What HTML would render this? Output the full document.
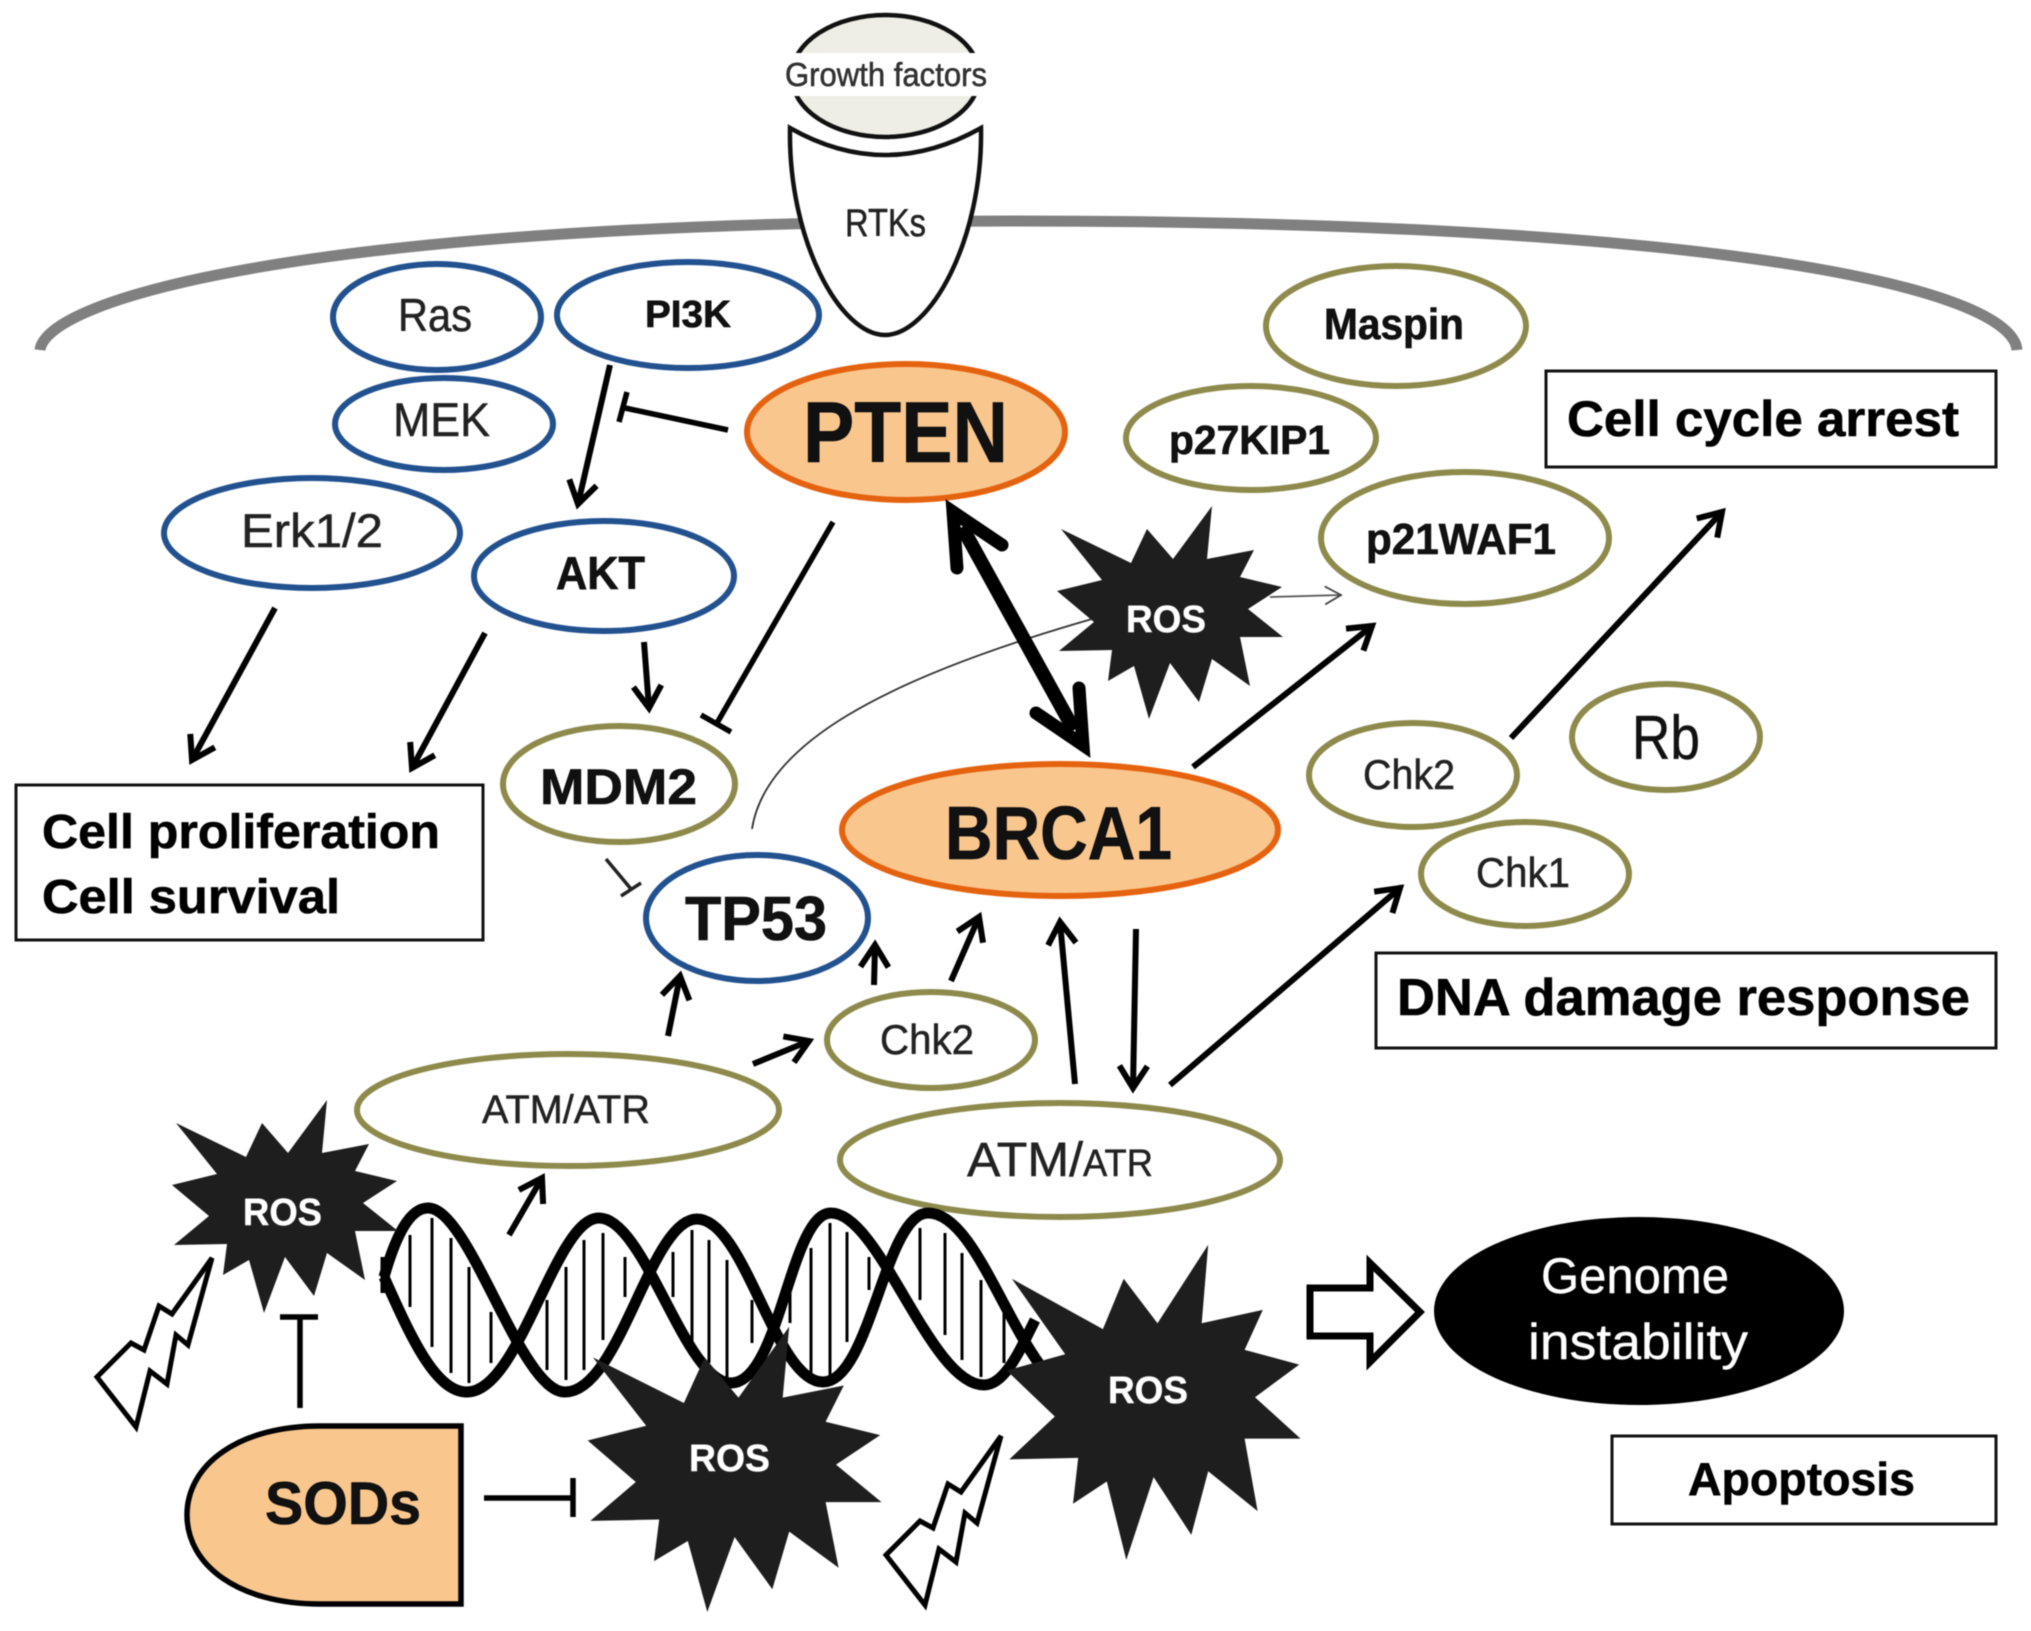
<!DOCTYPE html>
<html><head><meta charset="utf-8"><title>PTEN BRCA1 pathway</title>
<style>html,body{margin:0;padding:0;background:#fff}svg{display:block;filter:blur(.6px)}
text{font-family:"Liberation Sans",sans-serif;text-anchor:start;stroke:#222;stroke-width:.5}
.b{font-weight:bold;stroke:#000;stroke-width:.6}.w{fill:#fff;stroke:#fff;stroke-width:.4}
.bl{fill:#fff;stroke:#22518f;stroke-width:6}
.ol{fill:#fff;stroke:#8e8a4c;stroke-width:6}
.or{fill:#f9c78e;stroke:#e5620f;stroke-width:6}
.a{fill:none;stroke:#000;stroke-width:6;marker-end:url(#h)}
.s{fill:none;stroke:#000;stroke-width:5.5}
.box{fill:#fff;stroke:#111;stroke-width:3}
</style></head><body>
<svg xmlns="http://www.w3.org/2000/svg" width="2031" height="1631" viewBox="0 0 2031 1631">
<defs>
<marker id="h" markerUnits="userSpaceOnUse" markerWidth="40" markerHeight="40" refX="28" refY="20" orient="auto" overflow="visible">
<path d="M6 6 L28 20 L6 34" fill="none" stroke="#000" stroke-width="6"/></marker>
<marker id="t" markerUnits="userSpaceOnUse" markerWidth="30" markerHeight="30" refX="24" refY="15" orient="auto" overflow="visible">
<path d="M8 6 L24 15 L8 24" fill="none" stroke="#444" stroke-width="1.8"/></marker>
<polygon id="star" fill="#1e1e1e" points="44,-113 39,-60 86,-69 72,-42 114,-32 80,-10 115,18 72,18 82,67 44,40 31,83 2,44 -19,100 -34,47 -60,62 -56,31 -109,32 -74,3 -111,-28 -66,-39 -107,-90 -37,-56 -21,-90 5,-60"/>
<polygon id="bolt" fill="#fff" stroke="#000" stroke-width="5" stroke-linejoin="miter" points="212,1258 188,1345 176,1335 167,1384 150,1371 136,1427 97,1377 131,1343 144,1350 159,1306 172,1314"/>
</defs>

<!-- membrane -->
<path d="M40 350 C46 300,300 221,1015 221 C1730 221,2012 290,2017 350" fill="none" stroke="#808080" stroke-width="11"/>

<!-- growth factors -->
<ellipse cx="885.5" cy="76" rx="94" ry="61" fill="#eeeee6" stroke="#111" stroke-width="4.5"/>
<rect x="780" y="53" width="212" height="43" fill="#fff"/>
<text x="785" y="86" font-size="33" fill="#333" textLength="202" lengthAdjust="spacingAndGlyphs">Growth factors</text>

<!-- RTK -->
<path d="M790 128 Q885 182 981 128 C983 240,930 335,885 335 C840 335,788 240,790 128 Z" fill="#fff" stroke="#111" stroke-width="4.5"/>
<text x="845" y="236" font-size="39" fill="#222" textLength="81" lengthAdjust="spacingAndGlyphs">RTKs</text>

<!-- blue ellipses -->
<ellipse class="bl" cx="437" cy="317" rx="104" ry="53"/>
<ellipse class="bl" cx="688" cy="315" rx="131" ry="53"/>
<ellipse class="bl" cx="444" cy="424" rx="109" ry="46"/>
<ellipse class="bl" cx="312" cy="533" rx="148" ry="55"/>
<ellipse class="bl" cx="604" cy="576" rx="130" ry="55"/>
<ellipse class="bl" cx="757" cy="918" rx="111" ry="63"/>

<!-- olive ellipses -->
<ellipse class="ol" cx="619" cy="784" rx="116" ry="58"/>
<ellipse class="ol" cx="931" cy="1040" rx="104" ry="48"/>
<ellipse class="ol" cx="568" cy="1110" rx="211" ry="56"/>
<ellipse class="ol" cx="1060" cy="1160" rx="220" ry="57"/>
<ellipse class="ol" cx="1396" cy="326" rx="130" ry="60"/>
<ellipse class="ol" cx="1251" cy="438" rx="125" ry="52"/>
<ellipse class="ol" cx="1465" cy="538" rx="144" ry="66"/>
<ellipse class="ol" cx="1413" cy="775" rx="104" ry="52"/>
<ellipse class="ol" cx="1666" cy="737" rx="94" ry="53"/>
<ellipse class="ol" cx="1525" cy="874" rx="104" ry="52"/>

<!-- orange ellipses -->
<ellipse class="or" cx="906" cy="432" rx="159" ry="68"/>
<ellipse class="or" cx="1060" cy="830" rx="218" ry="66"/>

<!-- genome -->
<ellipse cx="1639" cy="1311" rx="205" ry="94" fill="#000"/>

<!-- boxes -->
<rect class="box" x="1546" y="371" width="450" height="96"/>
<rect class="box" x="1376" y="953" width="620" height="95"/>
<rect class="box" x="1612" y="1436" width="384" height="88" stroke-width="4"/>
<rect class="box" x="16" y="785" width="467" height="155" stroke-width="4"/>

<!-- thin curve + arrow -->
<path d="M752 829 C765 745,880 680,1092 619" fill="none" stroke="#333" stroke-width="1.8"/>
<line x1="1270" y1="597" x2="1341" y2="595" stroke="#555" stroke-width="1.8" marker-end="url(#t)"/>

<!-- arrows -->
<line class="a" x1="610" y1="365" x2="578" y2="504"/>
<line class="a" x1="275" y1="608" x2="192" y2="760"/>
<line class="a" x1="485" y1="633" x2="412" y2="768"/>
<line class="a" x1="644" y1="642" x2="649" y2="708"/>
<line class="a" x1="1193" y1="767" x2="1372" y2="626"/>
<line class="a" x1="1511" y1="738" x2="1722" y2="512"/>
<line class="a" x1="1170" y1="1085" x2="1400" y2="888"/>
<line class="a" x1="1075" y1="1084" x2="1060" y2="922"/>
<line class="a" x1="1136" y1="929" x2="1133" y2="1088"/>
<line class="a" x1="951" y1="981" x2="979" y2="917"/>
<line class="a" x1="874" y1="985" x2="875" y2="945"/>
<line class="a" x1="668" y1="1036" x2="680" y2="976"/>
<line class="a" x1="753" y1="1064" x2="809" y2="1041"/>
<line class="a" x1="509" y1="1235" x2="542" y2="1178"/>

<!-- inhibitors -->
<path class="s" d="M728 430 L625 408 M627 392 L619 422"/>
<path class="s" d="M833 522 L717 723 M701 715 L731 732"/>
<path d="M606 859 L631 889 M621 896 L641 883" fill="none" stroke="#222" stroke-width="3.5"/>
<path class="s" d="M300 1408 V1317 M280 1317 H318"/>
<path class="s" d="M484 1498 H573 M573 1478 V1517"/>

<!-- thick double arrow -->
<path d="M962 527 L1074 730" stroke="#000" stroke-width="14" fill="none"/>
<path d="M957 568 L953 512 L1002 545" fill="none" stroke="#000" stroke-width="13" stroke-linecap="round" stroke-linejoin="miter"/>
<path d="M1079 688 L1083 745 L1036 713" fill="none" stroke="#000" stroke-width="13" stroke-linecap="round" stroke-linejoin="miter"/>

<!-- DNA rungs -->
<path stroke="#000" stroke-width="3" fill="none" d="M410 1235V1307M432 1218V1347M451 1238V1373M469 1267V1383M491 1312V1363M547 1300V1370M566 1267V1380M584 1240V1370M603 1233V1340M625 1257V1297M673 1252V1297M692 1230V1343M709 1240V1363M727 1260V1377M752 1300V1343M790 1293V1323M811 1248V1380M830 1223V1380M847 1232V1342M869 1257V1290M920 1228V1300M945 1233V1335M962 1253V1360M981 1280V1377M1004 1313V1363"/>
<!-- DNA strands -->
<path fill="none" stroke="#000" stroke-width="11" d="M384 1277 C396 1235,410 1208,428 1208 C470 1208,520 1392,565 1392 C620 1392,650 1219,697 1219 C745 1219,775 1382,823 1382 C870 1382,885 1213,928 1213 C970 1213,1000 1310,1040 1365"/>
<path fill="none" stroke="#000" stroke-width="11" d="M384 1277 C410 1335,435 1392,467 1392 C520 1392,555 1218,599 1218 C645 1218,685 1383,731 1383 C780 1383,790 1213,831 1213 C880 1213,930 1385,984 1385 C1005 1385,1020 1350,1035 1320"/>
<path d="M384 1257 V1293" stroke="#000" stroke-width="7" fill="none"/>

<!-- stars -->
<use href="#star" transform="translate(1168,619)"/>
<use href="#star" transform="translate(283,1213)"/>
<use href="#star" transform="translate(732,1478) scale(1.3,1.34)"/>
<use href="#star" transform="translate(1151,1412) scale(1.3,1.48)"/>

<!-- bolts -->
<use href="#bolt"/>
<use href="#bolt" transform="translate(789,178)"/>

<!-- SODs -->
<path d="M461 1426 L320 1426 C238 1426 187 1465 187 1515 C187 1565 238 1604 320 1604 L461 1604 Z" fill="#f9c78e" stroke="#000" stroke-width="5.5"/>

<!-- hollow arrow -->
<path d="M1310 1288 H1370 V1263 L1420 1312 L1370 1362 V1336 H1310 Z" fill="#fff" stroke="#000" stroke-width="7"/>

<!-- labels -->
<text x="398" y="331" font-size="46" fill="#222" textLength="74" lengthAdjust="spacingAndGlyphs">Ras</text>
<text x="645" y="327" font-size="38" class="b" fill="#111" textLength="86" lengthAdjust="spacingAndGlyphs">PI3K</text>
<text x="393" y="436" font-size="47" fill="#222" textLength="97" lengthAdjust="spacingAndGlyphs">MEK</text>
<text x="241" y="547" font-size="47" fill="#222" textLength="142" lengthAdjust="spacingAndGlyphs">Erk1/2</text>
<text x="556" y="589" font-size="46" class="b" fill="#111" textLength="89" lengthAdjust="spacingAndGlyphs">AKT</text>
<text x="803" y="462" font-size="86" class="b" fill="#111" textLength="205" lengthAdjust="spacingAndGlyphs">PTEN</text>
<text x="945" y="859" font-size="75" class="b" fill="#111" textLength="227" lengthAdjust="spacingAndGlyphs">BRCA1</text>
<text x="540" y="804" font-size="50" class="b" fill="#111" textLength="157" lengthAdjust="spacingAndGlyphs">MDM2</text>
<text x="685" y="940" font-size="62" class="b" fill="#111" textLength="142" lengthAdjust="spacingAndGlyphs">TP53</text>
<text x="880" y="1054" font-size="42" fill="#222" textLength="94" lengthAdjust="spacingAndGlyphs">Chk2</text>
<text x="482" y="1123" font-size="40" fill="#222" textLength="168" lengthAdjust="spacingAndGlyphs">ATM/ATR</text>
<text x="967" y="1176" font-size="48" fill="#222" textLength="116" lengthAdjust="spacingAndGlyphs">ATM/</text>
<text x="1083" y="1176" font-size="38" fill="#222" textLength="70" lengthAdjust="spacingAndGlyphs">ATR</text>
<text x="1324" y="339" font-size="44" class="b" fill="#111" textLength="140" lengthAdjust="spacingAndGlyphs">Maspin</text>
<text x="1169" y="454" font-size="41" class="b" fill="#111" textLength="161" lengthAdjust="spacingAndGlyphs">p27KIP1</text>
<text x="1366" y="554" font-size="44" class="b" fill="#111" textLength="190" lengthAdjust="spacingAndGlyphs">p21WAF1</text>
<text x="1363" y="789" font-size="42" fill="#222" textLength="92" lengthAdjust="spacingAndGlyphs">Chk2</text>
<text x="1632" y="759" font-size="62" fill="#111" textLength="68" lengthAdjust="spacingAndGlyphs">Rb</text>
<text x="1476" y="887" font-size="42" fill="#222" textLength="94" lengthAdjust="spacingAndGlyphs">Chk1</text>
<text x="1567" y="436" font-size="50" class="b" fill="#000" textLength="392" lengthAdjust="spacingAndGlyphs">Cell cycle arrest</text>
<text x="1397" y="1015" font-size="52" class="b" fill="#000" textLength="573" lengthAdjust="spacingAndGlyphs">DNA damage response</text>
<text x="1688" y="1495" font-size="46" class="b" fill="#000" textLength="227" lengthAdjust="spacingAndGlyphs">Apoptosis</text>
<text x="1541" y="1293" font-size="50" class="w" textLength="188" lengthAdjust="spacingAndGlyphs">Genome</text>
<text x="1528" y="1359" font-size="50" class="w" textLength="220" lengthAdjust="spacingAndGlyphs">instability</text>
<text x="1126" y="632" font-size="38" class="b w" textLength="80" lengthAdjust="spacingAndGlyphs">ROS</text>
<text x="243" y="1225" font-size="38" class="b w" textLength="79" lengthAdjust="spacingAndGlyphs">ROS</text>
<text x="689" y="1471" font-size="38" class="b w" textLength="81" lengthAdjust="spacingAndGlyphs">ROS</text>
<text x="1108" y="1403" font-size="38" class="b w" textLength="80" lengthAdjust="spacingAndGlyphs">ROS</text>
<text x="265" y="1524" font-size="60" class="b" fill="#111" textLength="156" lengthAdjust="spacingAndGlyphs">SODs</text>
<text x="42" y="848" font-size="48" class="b" fill="#000" textLength="398" lengthAdjust="spacingAndGlyphs">Cell proliferation</text>
<text x="42" y="913" font-size="48" class="b" fill="#000" textLength="298" lengthAdjust="spacingAndGlyphs">Cell survival</text>
</svg>
</body></html>
